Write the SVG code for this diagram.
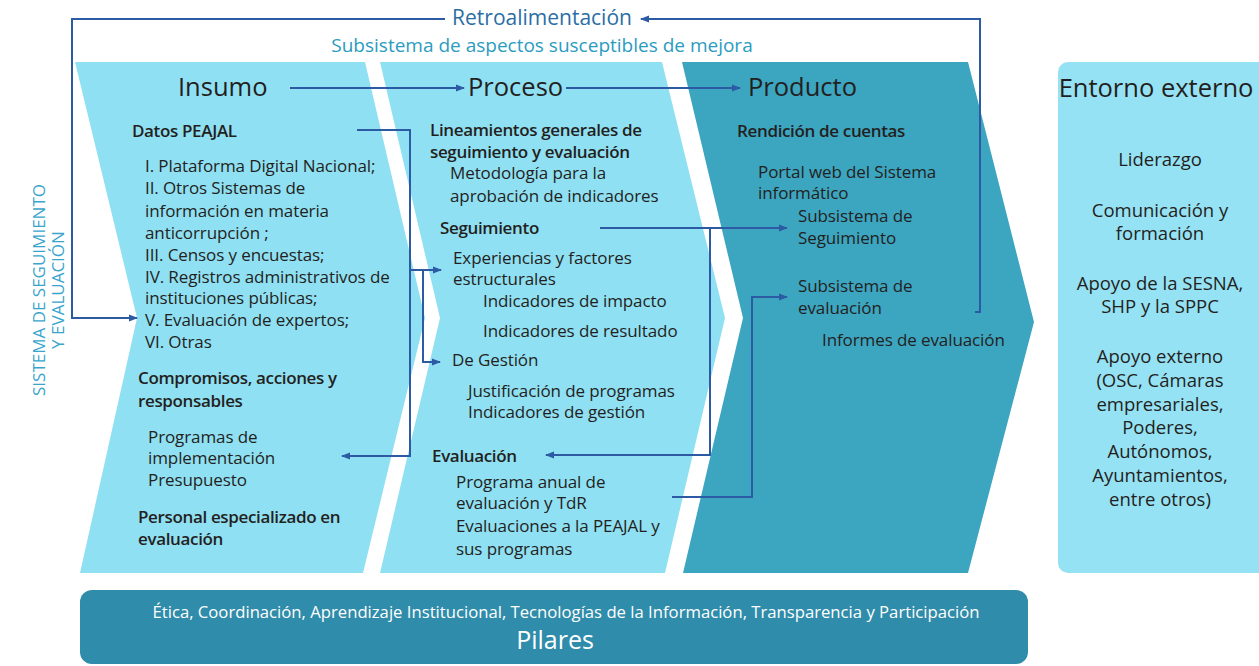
<svg xmlns="http://www.w3.org/2000/svg" width="1259" height="666" viewBox="0 0 1259 666">
<style>
.t{font-family:"Open Sans","Noto Sans",sans-serif;font-size:17px;fill:#231f20;letter-spacing:-0.1px}
.b{font-family:"Open Sans","Noto Sans",sans-serif;font-size:17px;font-weight:600;fill:#231f20;letter-spacing:-0.35px}
.h{font-family:"Open Sans","Noto Sans",sans-serif;font-size:25.5px;fill:#231f20}
.e{font-family:"Open Sans","Noto Sans",sans-serif;font-size:18.5px;fill:#231f20;text-anchor:middle}
.ca{fill:none;stroke:#2d5ba3;stroke-width:2;marker-end:url(#ah)}
</style>
<defs>
<marker id="ah" markerWidth="10" markerHeight="8" refX="8" refY="4" orient="auto" markerUnits="userSpaceOnUse">
<path d="M0,0.5 L9,4 L0,7.5 z" fill="#2d5ba3"/>
</marker>
</defs>
<rect width="1259" height="666" fill="#ffffff"/>

<g id="insumo">
<polygon points="75,62 365,62 425,318 363,573 80,573 137,318" fill="#90e0f4"/>
<text class="h" x="178" y="96">Insumo</text>
<text class="b" x="132" y="137">Datos PEAJAL</text>
<text class="t" x="145" y="172">I. Plataforma Digital Nacional;</text>
<text class="t" x="145" y="194">II. Otros Sistemas de</text>
<text class="t" x="145" y="217">información en materia</text>
<text class="t" x="145" y="239">anticorrupción ;</text>
<text class="t" x="145" y="261">III. Censos y encuestas;</text>
<text class="t" x="145" y="283">IV. Registros administrativos de</text>
<text class="t" x="145" y="304">instituciones públicas;</text>
<text class="t" x="145" y="326">V. Evaluación de expertos;</text>
<text class="t" x="145" y="348">VI. Otras</text>
<text class="b" x="138" y="384">Compromisos, acciones  y</text>
<text class="b" x="138" y="407">responsables</text>
<text class="t" x="148" y="443">Programas de</text>
<text class="t" x="148" y="464">implementación</text>
<text class="t" x="148" y="486">Presupuesto</text>
<text class="b" x="138" y="523">Personal especializado en</text>
<text class="b" x="138" y="545">evaluación</text>
</g>

<g id="proceso">
<polygon points="380,62 662,62 725,318 665,573 380,573 440,318" fill="#90e0f4"/>
<text class="h" x="468" y="96">Proceso</text>
<text class="b" x="430" y="136">Lineamientos generales de</text>
<text class="b" x="430" y="158">seguimiento y evaluación</text>
<text class="t" x="450" y="179">Metodología para la</text>
<text class="t" x="450" y="202">aprobación de indicadores</text>
<text class="b" x="440" y="234">Seguimiento</text>
<text class="t" x="453" y="264">Experiencias y factores</text>
<text class="t" x="453" y="285">estructurales</text>
<text class="t" x="483" y="307">Indicadores de impacto</text>
<text class="t" x="483" y="337">Indicadores de resultado</text>
<text class="t" x="452" y="366">De Gestión</text>
<text class="t" x="468" y="397">Justificación de programas</text>
<text class="t" x="468" y="418">Indicadores de gestión</text>
<text class="b" x="432" y="462">Evaluación</text>
<text class="t" x="456" y="488">Programa anual de</text>
<text class="t" x="456" y="509">evaluación y TdR</text>
<text class="t" x="456" y="532">Evaluaciones a la PEAJAL y</text>
<text class="t" x="456" y="555">sus programas</text>
</g>

<g id="producto">
<polygon points="682,62 968,62 1034,322 968,573 683,573 743,318" fill="#3ca5c0"/>
<text class="h" x="748" y="96">Producto</text>
<text class="b" x="737" y="137">Rendición de cuentas</text>
<text class="t" x="758" y="178">Portal web del Sistema</text>
<text class="t" x="758" y="199">informático</text>
<text class="t" x="798" y="222">Subsistema de</text>
<text class="t" x="798" y="244">Seguimiento</text>
<text class="t" x="798" y="292">Subsistema de</text>
<text class="t" x="798" y="314">evaluación</text>
<text class="t" x="822" y="346">Informes de evaluación</text>
</g>

<g id="entorno">
<rect x="1058" y="62" width="215" height="511" rx="10" fill="#96e2f5"/>
<text class="h" x="1156" y="97" text-anchor="middle">Entorno externo</text>
<text class="e" x="1160" y="166">Liderazgo</text>
<text class="e" x="1160" y="217">Comunicación y</text>
<text class="e" x="1160" y="240">formación</text>
<text class="e" x="1160" y="290">Apoyo de la SESNA,</text>
<text class="e" x="1160" y="313">SHP y la SPPC</text>
<text class="e" x="1160" y="363">Apoyo externo</text>
<text class="e" x="1160" y="387">(OSC, Cámaras</text>
<text class="e" x="1160" y="411">empresariales,</text>
<text class="e" x="1160" y="434">Poderes,</text>
<text class="e" x="1160" y="458">Autónomos,</text>
<text class="e" x="1160" y="482">Ayuntamientos,</text>
<text class="e" x="1160" y="506">entre otros)</text>
</g>

<g id="pilares">
<rect x="80" y="590" width="948" height="74" rx="12" fill="#2f8caa"/>
<text x="566" y="618" text-anchor="middle" font-family="Open Sans, Noto Sans, sans-serif" font-size="15.5" fill="#ffffff" textLength="827" lengthAdjust="spacingAndGlyphs">Ética, Coordinación, Aprendizaje Institucional,  Tecnologías de la Información, Transparencia y Participación</text>
<text x="555" y="649" text-anchor="middle" font-family="Open Sans, Noto Sans, sans-serif" font-size="25" fill="#ffffff">Pilares</text>
</g>

<g id="sistema">
<text transform="translate(45,290) rotate(-90)" text-anchor="middle" font-family="Open Sans, Noto Sans, sans-serif" font-size="17" fill="#3aa5cc">SISTEMA DE SEGUIMIENTO</text>
<text transform="translate(64,290) rotate(-90)" text-anchor="middle" font-family="Open Sans, Noto Sans, sans-serif" font-size="17" fill="#3aa5cc">Y EVALUACIÓN</text>
</g>

<g id="retro">
<text x="542" y="25" text-anchor="middle" font-family="Open Sans, Noto Sans, sans-serif" font-size="21" fill="#2a6ea5">Retroalimentación</text>
<text x="542" y="52" text-anchor="middle" font-family="Open Sans, Noto Sans, sans-serif" font-size="19" fill="#2b9cc0">Subsistema de aspectos susceptibles de mejora</text>
</g>

<g id="connectors">
<path class="ca" d="M975,312 H980 V19 H641"/>
<path class="ca" d="M445,19 H72 V318 H137"/>
<path class="ca" d="M290,88 H464"/>
<path class="ca" d="M566,88 H740"/>
<path class="ca" d="M357,130 H410 V456 H342"/>
<path class="ca" d="M410,270 H441"/>
<path class="ca" d="M423,270 V362 H440"/>
<path class="ca" d="M600,228 H787"/>
<path class="ca" d="M710,228 V455 H546"/>
<path class="ca" d="M672,497 H752 V297 H787"/>
</g>
</svg>
